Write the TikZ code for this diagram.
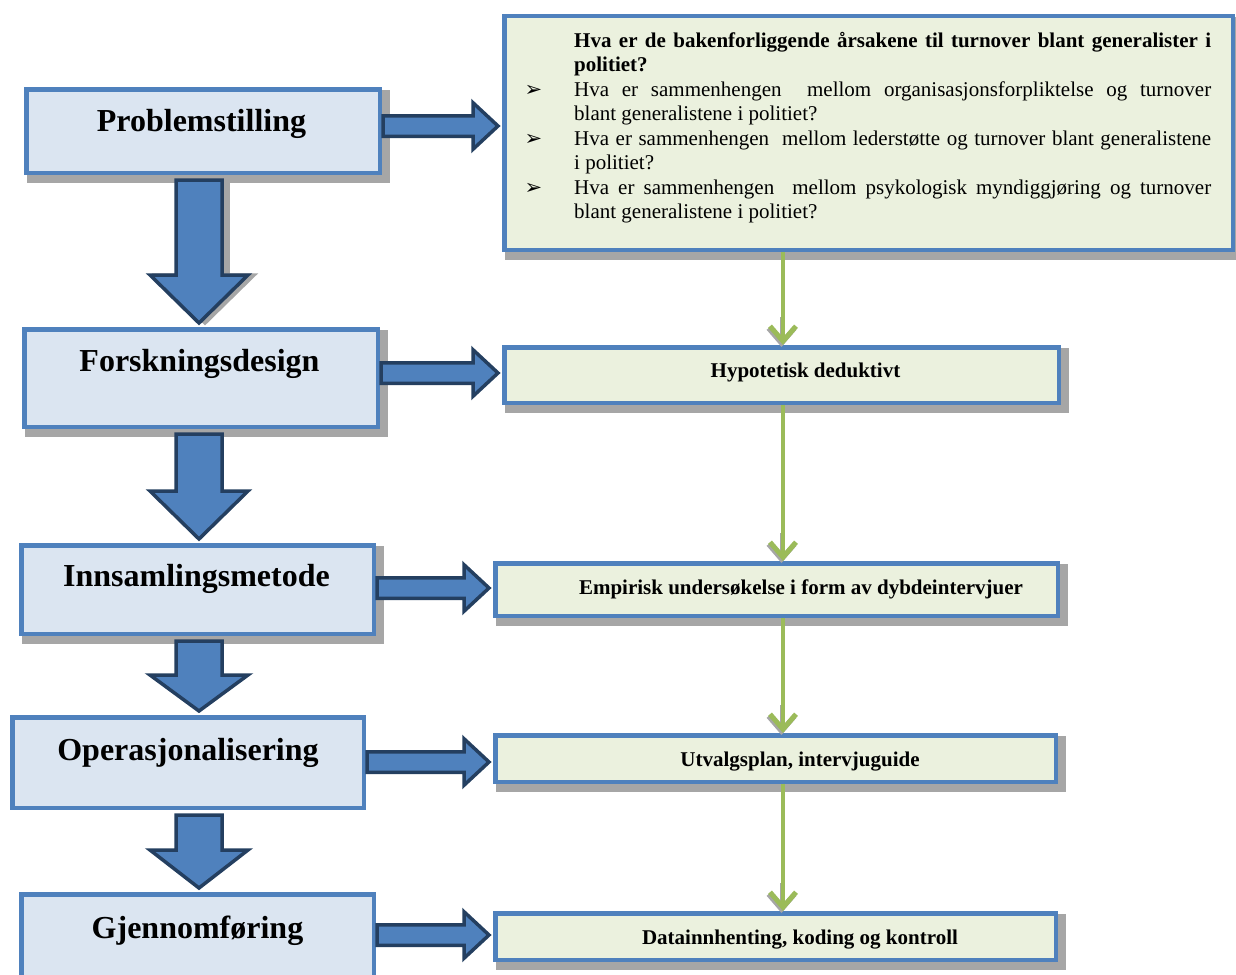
\documentclass[tikz,border=0pt]{standalone}
\usepackage{fontspec}
\setmainfont{Liberation Serif}
\newfontfamily\symfont{DejaVu Sans}
\usetikzlibrary{calc,arrows.meta,backgrounds}

\definecolor{boxblue}{HTML}{4F81BD}
\definecolor{navy}{HTML}{243F60}
\definecolor{lightblue}{HTML}{DBE5F1}
\definecolor{lightgreen}{HTML}{EBF1DE}
\definecolor{leafgreen}{HTML}{9BBB59}
\definecolor{shadowgray}{HTML}{A6A6A6}

\tikzset{
  leftbox/.style={rectangle, draw=boxblue, line width=4.5pt, fill=lightblue, inner sep=0pt},
  rightbox/.style={rectangle, draw=boxblue, line width=4.5pt, fill=lightgreen, inner sep=0pt},
  titletext/.style={font=\fontsize{32}{38}\selectfont\bfseries, anchor=base, inner sep=0pt},
  smalltext/.style={font=\fontsize{21}{24.5}\selectfont\bfseries, anchor=base, inner sep=0pt},
  blockarrow/.style={fill=boxblue, draw=navy, line width=3.5pt, line join=miter},
  blockshadow/.style={fill=shadowgray, draw=shadowgray, line width=3.5pt, line join=miter},
  flowtip/.style={-{Straight Barb[length=15pt,width=26pt,line width=5pt]}},
  flow/.style={draw=leafgreen, line width=4pt, flowtip},
  flowshadow/.style={draw=shadowgray, line width=4pt, flowtip},
}

% gray drop shadow behind a box node
\newcommand\boxshadow[1]{%
  \fill[shadowgray] ($(#1.south west)+(3.25,-7.75)$) rectangle ($(#1.north east)+(7.75,-3.25)$);}

% wide block arrow pointing down from one node to the next
\newcommand\blockdown[5]{% from, to, x centre, head length, style
  \draw[#5] let \p1=(#1.south), \p2=(#2.north) in
    (#3pt-23pt,\y1-5pt) -- (#3pt+23pt,\y1-5pt) -- (#3pt+23pt,\y2+#4pt) --
    (#3pt+49pt,\y2+#4pt) -- (#3pt,\y2+4pt) -- (#3pt-49pt,\y2+#4pt) --
    (#3pt-23pt,\y2+#4pt) -- cycle;}

% block arrow pointing right from a step to its box
\newcommand\blockright[3]{% from, to, y centre
  \draw[blockarrow] let \p1=(#1.east), \p2=(#2.west) in
    (\x1+1pt,#3pt+10.25pt) -- (\x2-29pt,#3pt+10.25pt) -- (\x2-29pt,#3pt+23.25pt) --
    (\x2-4pt,#3pt) -- (\x2-29pt,#3pt-23.25pt) -- (\x2-29pt,#3pt-10.25pt) --
    (\x1+1pt,#3pt-10.25pt) -- cycle;}

\newcommand\bul{\leavevmode\llap{{\symfont\fontsize{21}{21}\selectfont ➢}\hspace{32pt}}}

\begin{document}
\begin{tikzpicture}[x=1pt,y=1pt]
\path[use as bounding box] (0,0) rectangle (1236,-974);

% steps on the left
\node[leftbox, minimum width=353.5pt, minimum height=83.5pt] (p1) at (203,-131) {};
\node[leftbox, minimum width=353.5pt, minimum height=97.5pt] (p2) at (201,-378) {};
\node[leftbox, minimum width=352.5pt, minimum height=88.5pt] (p3) at (197.5,-589.5) {};
\node[leftbox, minimum width=351.5pt, minimum height=90.5pt] (p4) at (188,-762.5) {};
\node[leftbox, minimum width=352.5pt, minimum height=120pt] (p5) at (197.5,-954.25) {};

\node[titletext] (t1) at ($(p1.north)+(-1.5,-44)$) {Problemstilling};
\node[titletext] (t2) at ($(p2.north)+(-1.5,-44)$) {Forskningsdesign};
\node[titletext] (t3) at ($(p3.north)+(-1,-43.5)$) {Innsamlingsmetode};
\node[titletext] (t4) at ($(p4.north)+(0,-45.5)$) {Operasjonalisering};
\node[titletext] (t5) at ($(p5.north)+(0,-46.5)$) {Gjennomføring};

% boxes on the right
\node[rightbox, minimum width=728.5pt, minimum height=233.5pt] (A) at (868.5,-133) {};
\node[rightbox, minimum width=554.5pt, minimum height=55.5pt] (B) at (781.5,-375) {};
\node[rightbox, minimum width=562.5pt, minimum height=52.5pt] (C) at (776.5,-589.5) {};
\node[rightbox, minimum width=560.5pt, minimum height=46.5pt] (D) at (775.5,-758.5) {};
\node[rightbox, minimum width=560.5pt, minimum height=46.5pt] (E) at (775.5,-936.5) {};

\node[anchor=north west, inner sep=0pt, text width=637pt, align=justify,
      font=\fontsize{21}{24.5}\selectfont] (qtext) at (574,-32) {%
  \textbf{Hva er de bakenforliggende årsakene til turnover blant generalister i\linebreak politiet?}\par
  \bul Hva er sammenhengen\ \ mellom organisasjonsforpliktelse og turnover\linebreak blant generalistene i politiet?\par
  \bul Hva er sammenhengen\ \ mellom lederstøtte og turnover blant generalistene\linebreak i politiet?\par
  \bul Hva er sammenhengen\ \ mellom psykologisk myndiggjøring og turnover\linebreak blant generalistene i politiet?\par};

\node[smalltext] (bt) at (805.5,-377) {Hypotetisk deduktivt};
\node[smalltext] (ct) at (801,-594) {Empirisk undersøkelse i form av dybdeintervjuer};
\node[smalltext] (dt) at (800,-766) {Utvalgsplan, intervjuguide};
\node[smalltext] (et) at (800,-944) {Datainnhenting, koding og kontroll};

% drop shadows
\begin{scope}[on background layer]
  \boxshadow{p1}
  \boxshadow{p2}
  \boxshadow{p3}
  \boxshadow{A}
  \boxshadow{B}
  \boxshadow{C}
  \boxshadow{D}
  \boxshadow{E}
\end{scope}

% block arrows between the steps
\begin{scope}[shift={(6,-6)}]
  \blockdown{p1}{p2}{199}{52}{blockshadow}
\end{scope}
\blockdown{p1}{p2}{199}{52}{blockarrow}
\blockdown{p2}{p3}{199}{52}{blockarrow}
\blockdown{p3}{p4}{199}{40}{blockarrow}
\blockdown{p4}{p5}{199}{42}{blockarrow}

% block arrows from each step to its box
\blockright{p1}{A}{-126}
\blockright{p2}{B}{-373}
\blockright{p3}{C}{-588}
\blockright{p4}{D}{-762}
\blockright{p5}{E}{-935}

% green flow arrows on the right
\coordinate (gx) at (783,0);
\foreach \a/\b in {A/B, B/C, C/D, D/E}{
  \draw[flowshadow] ($(\b.north -| gx)+(-1.5,28)$) -- ($(\b.north -| gx)+(-1.5,-2)$);
  \draw[flow] (\a.south -| gx) -- (\b.north -| gx);
}
\end{tikzpicture}
\end{document}
